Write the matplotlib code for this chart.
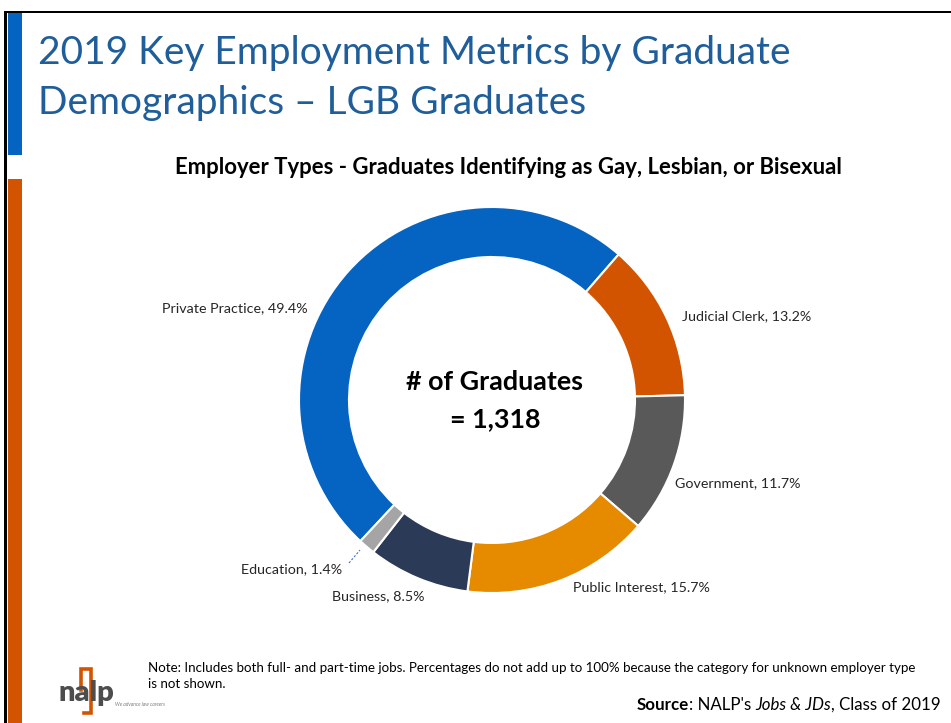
import matplotlib
matplotlib.use('Agg')
import matplotlib.pyplot as plt
from matplotlib.patches import Rectangle

plt.rcParams['font.family'] = ['Lato', 'DejaVu Sans']

W, H = 951, 723

def Y(y):
    # pixel row (from top) -> data y
    return H - y

# data
categories = ['Private Practice', 'Judicial Clerk', 'Government',
              'Public Interest', 'Business', 'Education']
shares = [49.4, 13.2, 11.7, 15.7, 8.5, 1.4]
colors = ['#0563C1', '#D35400', '#595959', '#E68A00', '#2B3A57', '#A5A5A5']
total_grads = '1,318'

title = '2019 Key Employment Metrics by Graduate\nDemographics \u2013 LGB Graduates'
subtitle = 'Employer Types - Graduates Identifying as Gay, Lesbian, or Bisexual'
note = ('Note: Includes both full- and part-time jobs. Percentages do not add up to 100% '
        'because the category for unknown employer type\nis not shown.')

fig = plt.figure(figsize=(W / 100, H / 100), dpi=100)
ax = fig.add_axes([0, 0, 1, 1])

# donut
wedges, _ = ax.pie(shares, colors=colors, startangle=227, counterclock=False,
                   center=(492, Y(400)), radius=193,
                   wedgeprops=dict(width=50, edgecolor='white', linewidth=1.5))
ax.set_xlim(0, W)
ax.set_ylim(0, H)
ax.set_aspect('auto')
ax.axis('off')

# slide frame and side bars
ax.add_patch(Rectangle((4, 0), 3, Y(11), color='black', lw=0))
ax.add_patch(Rectangle((4, Y(13)), W, 2, color='black', lw=0))
ax.add_patch(Rectangle((8, Y(155)), 14, 142, color='#0563C1', lw=0))
ax.add_patch(Rectangle((8, 0), 14, Y(179), color='#D35400', lw=0))

# titles
ax.text(38, Y(78), title, fontsize=28, color='#1F5E9A', fontweight='normal',
        ha='left', va='center', linespacing=1.5)
ax.text(508, Y(167), subtitle, fontsize=15.9, fontweight='bold', ha='center', va='center')

# centre text
ax.text(494, Y(382), '# of Graduates', fontsize=19.4, fontweight='bold', ha='center', va='center')
ax.text(495, Y(419), '= ' + total_grads, fontsize=19.4, fontweight='bold', ha='center', va='center')

# data labels
label_pos = [(308, 308, 'right'), (682, 316, 'left'), (675, 483, 'left'),
             (573, 587, 'left'), (332, 596, 'left'), (342, 569, 'right')]
for cat, val, (lx, ly, ha) in zip(categories, shares, label_pos):
    ax.text(lx, Y(ly), f'{cat}, {val}%', fontsize=10.3, color='#262626', ha=ha, va='center')
ax.plot([349, 360], [Y(563), Y(550)], color='#4472C4', lw=0.8, ls=(0, (2, 1.5)))

# footer
ax.text(148, Y(676), note, fontsize=9.65, ha='left', va='center', linespacing=1.3)

# source line, built right-to-left
fig.canvas.draw()
r = fig.canvas.get_renderer()
parts = [(', Class of 2019', 'normal', 'normal'), ('Jobs & JDs', 'normal', 'italic'),
         (": NALP's ", 'normal', 'normal'), ('Source', 'bold', 'normal')]
x = 941
for txt, wt, st in parts:
    t = ax.text(x, Y(705), txt, fontsize=12.2, fontweight=wt, fontstyle=st,
                ha='right', va='center')
    x -= t.get_window_extent(r).width

# nalp logo
ax.text(58, Y(701), 'nalp', fontsize=21, fontweight='heavy', color='#4D4D4D',
        ha='left', va='baseline')
ax.plot([81, 81, 91, 91, 84], [Y(690), Y(669), Y(669), Y(713), Y(713)],
        color='#D35400', lw=2.6, solid_joinstyle='miter')
ax.text(115, Y(704), 'We advance law careers', fontsize=3.6, fontstyle='italic',
        color='#7F7F7F', ha='left', va='center')

fig.savefig('out.png', dpi=100)
